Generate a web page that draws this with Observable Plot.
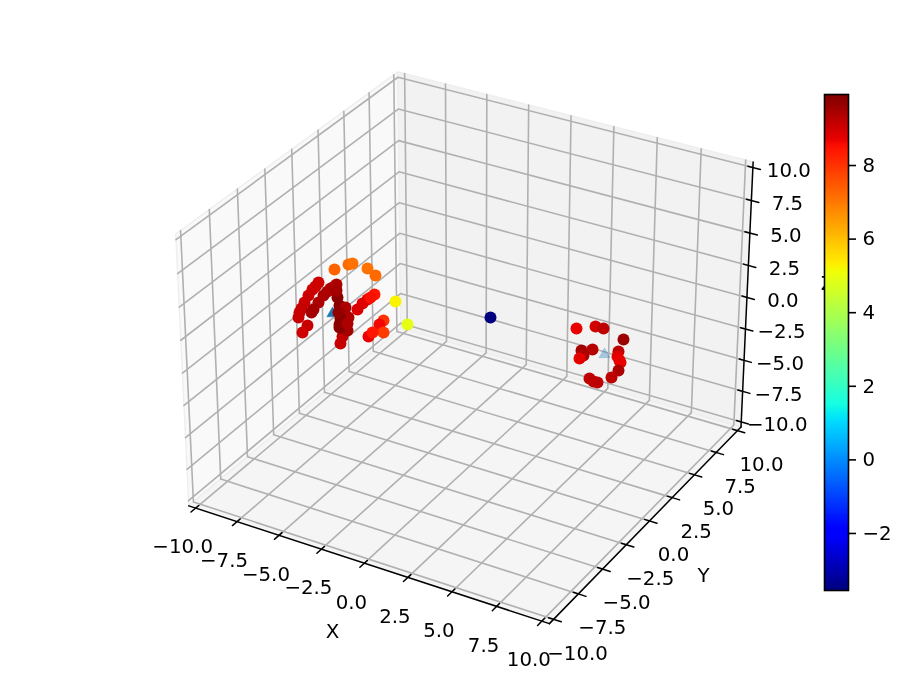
<!DOCTYPE html>
<html>
<head>
<meta charset="utf-8">
<title>3D scatter</title>
<script src="https://cdn.jsdelivr.net/npm/d3@7"></script>
<script src="https://cdn.jsdelivr.net/npm/@observablehq/plot@0.6"></script>
<style>
html,body{margin:0;padding:0;background:#fff;overflow:hidden}
#chart{position:relative;width:913px;height:685px}
#chart svg{position:absolute;left:0;top:0;filter:blur(0.35px)}
</style>
</head>
<body>
<div id="chart"></div>
<script>
// ---- values (scatter values are stated in figure-plane units) ----
const axisTicks = [-10,-7.5,-5,-2.5,0,2.5,5,7.5,10];
const colorTicks = [-2,0,2,4,6,8];
const colorDomain = [-3.55, 9.93];

const planeX = [
  490,
  334,348,352,367,375,
  395,407,
  383,379,383,368,372,
  374,367,362,357,370,
  318,312,308,304,301,298,299,307,302,315,
  336,330,323,318,313,311,327,334,
  342,344,347,340,339,337,339,345,348,340,339,347,336,338,
  576,595,603,623,592,581,583,579,618,617,619,620,618,611,589,593,597
];
const planeY = [
  317,
  269,264,263,268,275,
  301,324,
  320,324,332,336,332,
  294,299,303,309,297,
  282,289,295,302,308,317,312,325,332,286,
  284,288,295,302,309,312,291,286,
  336,312,330,343,327,297,305,307,317,318,324,323,290,312,
  328,326,328,339,349,350,355,358,351,356,360,362,370,377,378,381,382
];
const colorValue = [
  -3.55,
  7.3,7.2,7.1,7.1,7.2,
  5.25,4.9,
  8.0,8.6,7.9,8.7,8.4,
  8.4,8.7,8.8,8.9,8.5,
  9.0,9.0,9.05,9.05,9.1,9.1,9.1,9.1,9.0,9.0,
  9.4,9.4,9.4,9.4,9.5,9.5,9.4,9.4,
  9.2,9.7,9.5,9.1,9.8,9.8,9.8,9.4,9.4,9.8,9.8,9.4,9.5,9.7,
  8.7,9.0,9.2,9.6,9.3,9.5,9.4,8.75,9.2,8.8,8.7,8.7,9.4,9.2,9.2,9.2,9.2
];
const markerPlaneX = [332, 604];
const markerPlaneY = [313, 354];
const markerOpacity = [1, 0.35];

// jet colormap
const jetStops = [0,.11,.125,.34,.35,.375,.64,.65,.66,.89,.91,1];
const jetColors = ["rgb(0,0,127)","rgb(0,0,255)","rgb(0,0,255)","rgb(0,219,255)","rgb(0,230,247)","rgb(21,255,226)","rgb(239,255,8)","rgb(247,246,0)","rgb(255,236,0)","rgb(255,19,0)","rgb(232,0,0)","rgb(127,0,0)"];

// ---- mplot3d style projection (elev 30, azim -60, box aspect 4:4:3, dist 10) ----
const boxAspect = [1.1429, 1.1429, 0.8571];
const viewU = [.8660,.5,0], viewV = [-.25,.4330,.8660], viewN = [.4330,-.75,.5];
const planeScale = 3470, planeOx = 469.5, planeOy = 334;
const L = 10.4167;
function project([x,y,z]){
  const q = [x/20*boxAspect[0], y/20*boxAspect[1], z/20*boxAspect[2]];
  const dot = (a,b)=>a[0]*b[0]+a[1]*b[1]+a[2]*b[2];
  const w = 10 - dot(viewN,q);
  return {px: planeOx + planeScale*dot(viewU,q)/w, py: planeOy - planeScale*dot(viewV,q)/w};
}
const poly = (id, pts) => pts.map(p => ({id, ...project(p)}));

const panes = [
  {fill:"#f9f9f9", pts:[[-L,-L,-L],[-L,L,-L],[-L,L,L],[-L,-L,L]]},
  {fill:"#f2f2f2", pts:[[-L,L,-L],[L,L,-L],[L,L,L],[-L,L,L]]},
  {fill:"#f5f5f5", pts:[[-L,-L,-L],[L,-L,-L],[L,L,-L],[-L,L,-L]]}
];
const paneRows = panes.flatMap((p,i)=>poly(i,p.pts).map(r=>({...r,fill:p.fill})));

const gridRows = axisTicks.flatMap(t => [
  ...poly("x"+t, [[t,-L,-L],[t,L,-L],[t,L,L]]),
  ...poly("y"+t, [[L,t,-L],[-L,t,-L],[-L,t,L]]),
  ...poly("z"+t, [[-L,-L,t],[-L,L,t],[L,L,t]])
]);
const axisRows = [
  ...poly("ax",[[-L,-L,-L],[L,-L,-L]]),
  ...poly("ay",[[L,-L,-L],[L,L,-L]]),
  ...poly("az",[[L,L,-L],[L,L,L]])
];
const tickOut = 0.42, tickIn = 0.28;
const tickRows = axisTicks.flatMap(t => [
  ...poly("tx"+t, [[t,-L-tickOut,-L],[t,-L+tickIn,-L]]),
  ...poly("ty"+t, [[L+tickOut,t,-L],[L-tickIn,t,-L]]),
  ...poly("tz"+t, [[L+tickOut,L,t],[L-tickIn,L,t]])
]);
const fmt = d3.format(".1f");
const lab = t => fmt(t).replace("-", "\u2212");
const labelRows = axisTicks.flatMap(t => {
  const a = project([t,-L,-L]), b = project([L,t,-L]), c = project([L,L,t]);
  return [
    {px:a.px-13, py:a.py+39, text:lab(t)},
    {px:b.px+24, py:b.py+34, text:lab(t)},
    {px:c.px+36, py:c.py+3, text:lab(t)}
  ];
});
const axisNames = ["X","Y","Z"];
const axisNameX = [332,703,827];
const axisNameY = [631,575,283];

const points = colorValue.map((v,i)=>({px:planeX[i],py:planeY[i],v}));
const markers = markerPlaneX.map((x,i)=>({px:x,py:markerPlaneY[i],o:markerOpacity[i]}));

const colorOpt = {
  type:"linear",
  domain: jetStops.map(t=>colorDomain[0]+(colorDomain[1]-colorDomain[0])*t),
  range: jetColors,
  clamp:true
};
const font = "'DejaVu Sans'";

const main = Plot.plot({
  width:913, height:685, margin:0,
  style:{background:"#fff"},
  x:{domain:[0,913], axis:null},
  y:{domain:[685,0], axis:null},
  color:colorOpt,
  marks:[
    ...panes.map((p,i)=>Plot.line(paneRows.filter(r=>r.id===i).concat(paneRows.find(r=>r.id===i)),{x:"px",y:"py",fill:p.fill,stroke:"#eeeeee",strokeWidth:1.4})),
    Plot.line(gridRows,{x:"px",y:"py",z:"id",stroke:"#b0b0b0",strokeWidth:1.6}),
    Plot.line(axisRows,{x:"px",y:"py",z:"id",stroke:"#000",strokeWidth:1.5}),
    Plot.line(tickRows,{x:"px",y:"py",z:"id",stroke:"#000",strokeWidth:1.5}),
    Plot.text(labelRows,{x:"px",y:"py",text:"text",fontSize:19.8,fontFamily:font,fill:"#000"}),
    Plot.text(axisNames,{x:(d,i)=>axisNameX[i],y:(d,i)=>axisNameY[i],text:d=>d,fontSize:19.8,fontFamily:font,fill:"#000"}),
    Plot.dot(markers,{x:"px",y:"py",symbol:"triangle",r:4.2,fill:"#1f77b4",fillOpacity:"o",stroke:"#1f77b4",strokeOpacity:"o",strokeWidth:0.5}),
    Plot.dot(points,{x:"px",y:"py",r:6,fill:"v"})
  ]
});

const bands = d3.range(0,256).map(i=>{
  const a = colorDomain[0]+(colorDomain[1]-colorDomain[0])*i/256;
  const b = colorDomain[0]+(colorDomain[1]-colorDomain[0])*(i+1)/256;
  return {a,b,v:(a+b)/2};
});
const bar = Plot.plot({
  width:913, height:685,
  marginLeft:824, marginRight:65, marginTop:94, marginBottom:95,
  style:{background:"transparent"},
  x:{domain:[0,1], axis:null},
  y:{domain:colorDomain},
  color:colorOpt,
  marks:[
    Plot.rect(bands,{x1:0,x2:1,y1:"a",y2:"b",fill:"v",shapeRendering:"crispEdges"}),
    Plot.frame({stroke:"#000",strokeWidth:1.6}),
    Plot.axisY({anchor:"right",ticks:colorTicks,tickSize:7,tickPadding:7,tickFormat:d=>String(d).replace("-","\u2212"),label:null,fontSize:19.8,fontFamily:font,fill:"#000",stroke:"#000",strokeWidth:1.6})
  ]
});
const root = document.getElementById("chart");
root.appendChild(main);
root.appendChild(bar);
</script>
</body>
</html>
